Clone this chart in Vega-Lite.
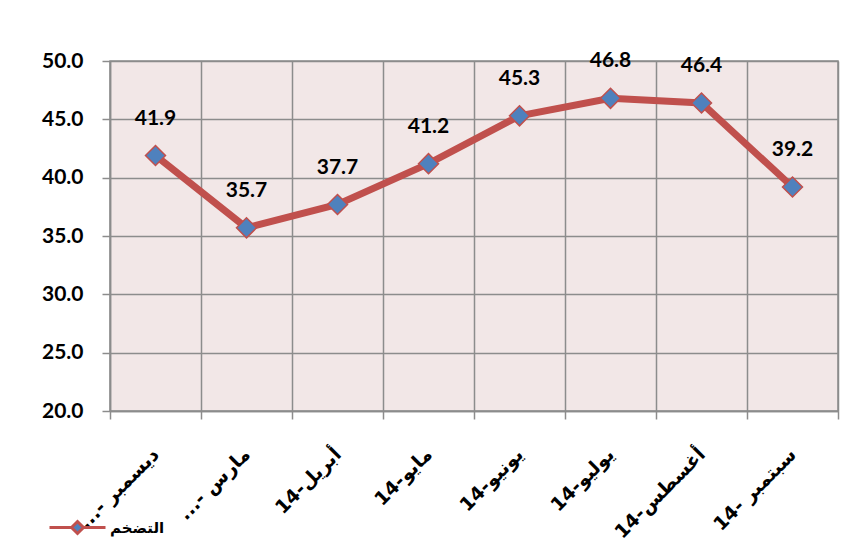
{
  "$schema": "https://vega.github.io/schema/vega-lite/v6.json",
  "width": 728,
  "height": 350,
  "autosize": {"type": "none"},
  "padding": {"left": 110, "top": 61, "right": 18, "bottom": 148},
  "background": "white",
  "config": {
    "view": {"fill": "#F2E7E7", "stroke": "#8C8C8C", "strokeWidth": 1.5},
    "axis": {"domainColor": "#8C8C8C", "tickColor": "#8C8C8C", "gridColor": "#8C8C8C", "gridWidth": 1.5, "domainWidth": 1.5, "tickWidth": 1.5, "gridOpacity": 1}
  },
  "data": {
    "values": [
      {"month": "...- ديسمبر", "value": 41.9},
      {"month": "...- مارس", "value": 35.7},
      {"month": "14-أبريل", "value": 37.7},
      {"month": "14-مايو", "value": 41.2},
      {"month": "14-يونيو", "value": 45.3},
      {"month": "14-يوليو", "value": 46.8},
      {"month": "14-أغسطس", "value": 46.4},
      {"month": "14- سبتمبر", "value": 39.2}
    ]
  },
  "encoding": {
    "x": {
      "field": "month",
      "type": "nominal",
      "sort": null,
      "scale": {"type": "band", "paddingInner": 0, "paddingOuter": 0},
      "axis": {
        "title": null,
        "grid": true,
        "tickBand": "extent",
        "tickSize": 8,
        "labelAngle": -45,
        "labelAlign": "right",
        "labelBaseline": "middle",
        "labelPadding": 32,
        "labelFont": "DejaVu Sans",
        "labelFontWeight": "bold",
        "labelFontSize": 19,
        "labelColor": "black",
        "labelLimit": 200
      }
    },
    "y": {
      "field": "value",
      "type": "quantitative",
      "scale": {"domain": [20, 50], "nice": false, "zero": false},
      "axis": {
        "title": null,
        "values": [20, 25, 30, 35, 40, 45, 50],
        "format": ".1f",
        "tickSize": 8,
        "labelPadding": 19,
        "labelFont": "Lato",
        "labelFontWeight": "bold",
        "labelFontSize": 21,
        "labelColor": "black"
      }
    }
  },
  "layer": [
    {
      "mark": {"type": "line", "strokeWidth": 7},
      "encoding": {
        "color": {
          "datum": "التضخم",
          "scale": {"range": ["#C0504D"]},
          "legend": {
            "title": null,
            "orient": "none",
            "legendX": -44,
            "legendY": 455,
            "symbolType": "M-2.8,0L-0.6,0M0.6,0L2.8,0M-0.6,0L0,-0.6L0.6,0L0,0.6Z",
            "symbolSize": 400,
            "symbolStrokeWidth": 3,
            "labelOffset": 21,
            "labelFont": "DejaVu Sans",
            "labelFontWeight": "bold",
            "labelFontSize": 15,
            "labelColor": "black",
            "encode": {
              "symbols": {
                "update": {
                  "fill": {"value": "#4F81BD"},
                  "stroke": {"value": "#C0504D"},
                  "strokeWidth": {"value": 3}
                }
              }
            }
          }
        }
      }
    },
    {
      "mark": {"type": "point", "shape": "diamond", "filled": true, "fill": "#4F81BD", "stroke": "#C0504D", "strokeWidth": 1.5, "size": 400, "opacity": 1}
    },
    {
      "mark": {"type": "text", "dy": -37, "font": "Lato", "fontWeight": "bold", "fontSize": 21, "color": "black"},
      "encoding": {"text": {"field": "value", "type": "quantitative", "format": ".1f"}}
    }
  ]
}
